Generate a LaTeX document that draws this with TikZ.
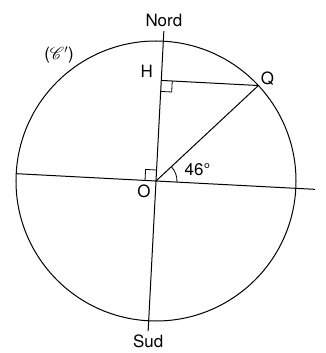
\documentclass[tikz,border=0pt]{standalone}
\usepackage{fontspec}
\setmainfont{TeX Gyre Heros}
\usepackage{mathrsfs}
\begin{document}
\begin{tikzpicture}[x=1bp,y=1bp,line width=1bp,
  lbl/.style={font=\fontsize{17}{19}\selectfont,inner sep=2bp}]
\useasboundingbox (0,0) rectangle (326,353);
\coordinate (O) at (156,172);
\begin{scope}[shift={(O)},rotate=-3]
  \coordinate (N) at (0,150);
  \coordinate (S) at (0,-150);
  \coordinate (W) at (-140,0);
  \coordinate (E) at (159,0);
  \coordinate (Q) at (46:140);
  \coordinate (H) at (0,{140*sin(46)});
  \draw (O) circle[radius=140];
  \draw (N) -- (S);
  \draw (W) -- (E);
  \draw (O) -- (Q) -- (H);
  % angles droits
  \draw[line width=0.8bp] (H) ++(11,0) -- ++(0,-11) -- ++(-11,0);
  \draw[line width=0.8bp] (O) ++(-11,0) -- ++(0,11) -- ++(11,0);
  % angle 46
  \draw[line width=0.8bp] (21,0) arc[start angle=0,end angle=46,radius=21];
  \node[lbl] (ang) at (18:43) {46°};
\end{scope}
\node[lbl,anchor=south,inner sep=4bp] (nord) at (N) {Nord};
\node[lbl,anchor=north,inner sep=4bp] (sud) at (S) {Sud};
\node[lbl,anchor=south west,inner sep=2bp,yshift=-2bp] (q) at (Q) {Q};
\node[lbl,anchor=south east,inner sep=2bp,xshift=-6bp] (h) at (H) {H};
\node[lbl,anchor=north east,inner sep=3bp,xshift=-2bp] (o) at (O) {O};
\node[lbl] (cc) at (59,298) {($\mathscr{C}'$)};
\end{tikzpicture}
\end{document}
